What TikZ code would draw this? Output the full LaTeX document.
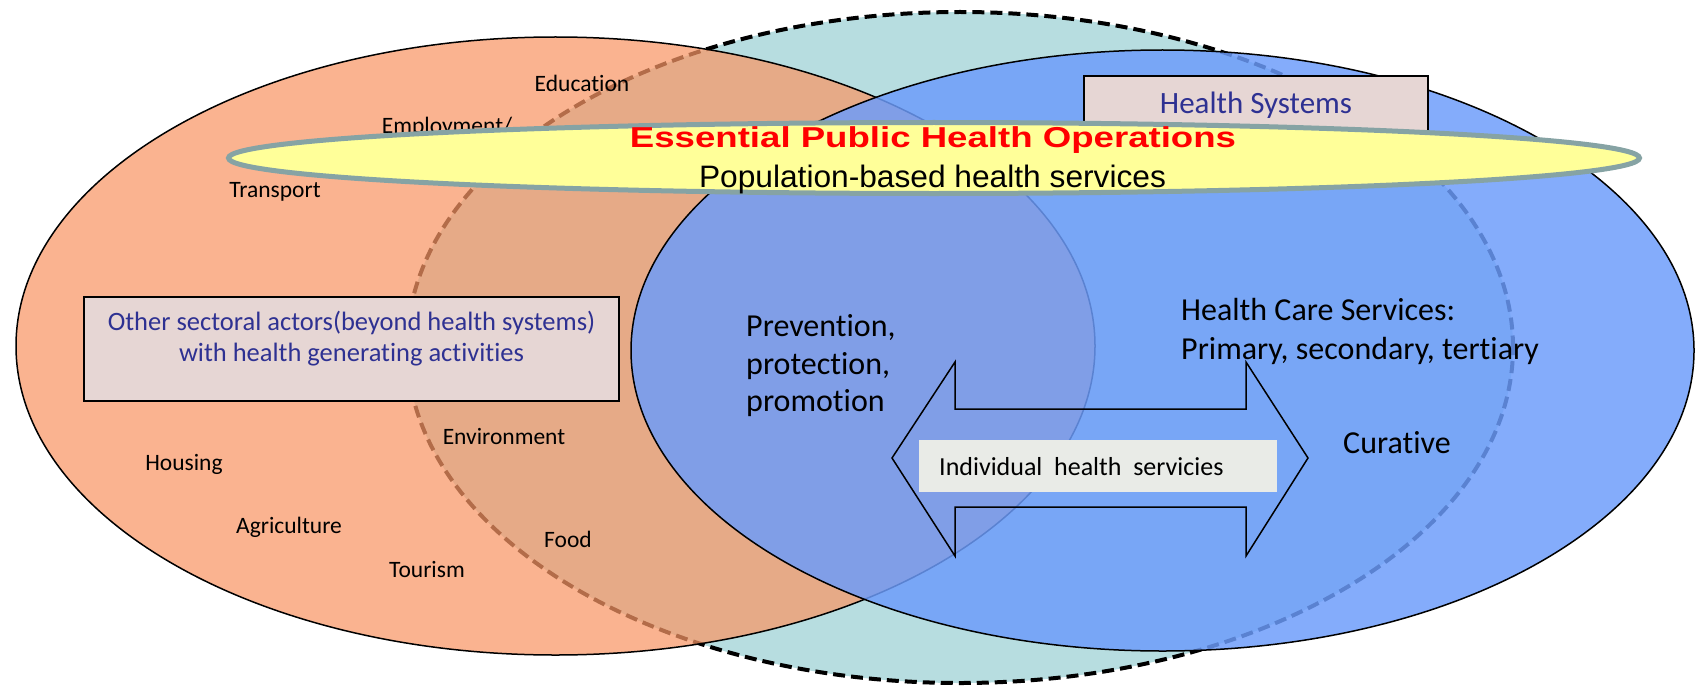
\documentclass[tikz,border=0pt]{standalone}
\usepackage{fontspec}
\setmainfont{Carlito}[Ligatures={NoCommon}]
\newfontfamily\arialfont{Liberation Sans}
\usepackage{graphicx}
\definecolor{tealC}{RGB}{183,221,224}
\definecolor{orangeC}{RGB}{249,151,102}
\definecolor{blueC}{RGB}{108,156,251}
\definecolor{yellowC}{RGB}{255,255,153}
\definecolor{yellowB}{RGB}{134,163,164}
\definecolor{boxC}{RGB}{230,214,212}
\definecolor{indivC}{RGB}{233,235,231}
\definecolor{txtblue}{RGB}{46,49,146}
\begin{document}
\begin{tikzpicture}[x=1pt,y=-1pt,
  lbl/.style={font=\fontsize{23.5}{28}\selectfont, inner sep=0pt, anchor=base},
  big/.style={font=\fontsize{32}{38}\selectfont, inner sep=0pt, anchor=base west},
  boxtxt/.style={font=\fontsize{26.5}{31}\selectfont, text=txtblue, inner sep=0pt, anchor=base},
  sectorbox/.style={fill=boxC, draw=black, line width=1.8pt},
  ringline/.style={draw=black, line width=1.5pt}]
\useasboundingbox (0,0) rectangle (1696,690);
\fill[white] (0,0) rectangle (1696,690);
% centres
\coordinate (tealc) at (960,347.5);
\coordinate (orc) at (555.5,346);
\coordinate (blc) at (1162.5,350.5);
\coordinate (yec) at (934,158);
% teal (public health) ellipse
\fill[tealC] (tealc) ellipse [x radius=553pt, y radius=335.5pt];
\draw[black, line width=4pt, dash pattern=on 12pt off 6pt] (tealc) ellipse [x radius=553pt, y radius=335.5pt];
% orange ellipse
\fill[orangeC, fill opacity=0.72] (orc) ellipse [x radius=539.5pt, y radius=309pt];
\draw[ringline] (orc) ellipse [x radius=539.5pt, y radius=309pt];
% sector labels
\node[lbl] (edu) at (582,92) {Education};
\node[lbl] (emp) at (447,134) {Employment/};
\node[lbl] (tra) at (275,197) {Transport};
\node[lbl] (hou) at (184,470) {Housing};
\node[lbl] (agr) at (289,533) {Agriculture};
\node[lbl] (tou) at (427,577) {Tourism};
\node[lbl] (env) at (504,444.5) {Environment};
\node[lbl] (foo) at (568,547.5) {Food};
% blue ellipse
\fill[blueC, fill opacity=0.835] (blc) ellipse [x radius=531.5pt, y radius=300.5pt];
\draw[ringline] (blc) ellipse [x radius=531.5pt, y radius=300.5pt];
% other sectoral actors box
\path[sectorbox] (84,297) rectangle (619,401);
\node[boxtxt] (osa1) at (351.5,330) {Other sectoral actors(beyond health systems)};
\node[boxtxt] (osa2) at (351.5,361) {with health generating activities};
% health systems box
\path[sectorbox] (1084,76) rectangle (1428,145);
\node[boxtxt, font=\fontsize{31}{36}\selectfont] (hs) at (1256,113.3) {Health Systems};
% yellow EPHO ellipse
\filldraw[fill=yellowC, draw=yellowB, line width=5pt] (yec) ellipse [x radius=705.5pt, y radius=35.5pt];
\node[inner sep=0pt, anchor=base, text=red] (epho) at (933,147.3)
  {\resizebox{606pt}{\height}{\arialfont\bfseries\fontsize{28.8}{32}\selectfont Essential Public Health Operations}};
\node[inner sep=0pt, anchor=base] (pop) at (932.5,187.3)
  {\resizebox{467pt}{\height}{\arialfont\fontsize{31}{36}\selectfont Population-based health services}};
% inner texts
\node[big] (pr1) at (746,336.5) {Prevention,};
\node[big] (pr2) at (746,374) {protection,};
\node[big] (pr3) at (746,411.5) {promotion};
\node[big] (hc1) at (1181,320) {Health Care Services:};
\node[big] (hc2) at (1181,359.5) {Primary, secondary, tertiary};
\node[big] (cur) at (1343,453) {Curative};
% double arrow
\coordinate (ltip) at (892,458);
\coordinate (rtip) at (1308,458);
\draw[black, line width=1.5pt, line join=miter]
  (ltip) -- (955,362) -- (955,409) -- (1246,409) -- (1246,362) -- (rtip)
  -- (1246,556) -- (1246,507) -- (955,507) -- (955,556) -- cycle;
\fill[indivC] (919,440) rectangle (1277,492);
\node[font=\fontsize{26}{30}\selectfont, inner sep=0pt, anchor=base west] (ind) at (939,475)
  {Individual\ \ health\ \ servicies};
\end{tikzpicture}
\end{document}
